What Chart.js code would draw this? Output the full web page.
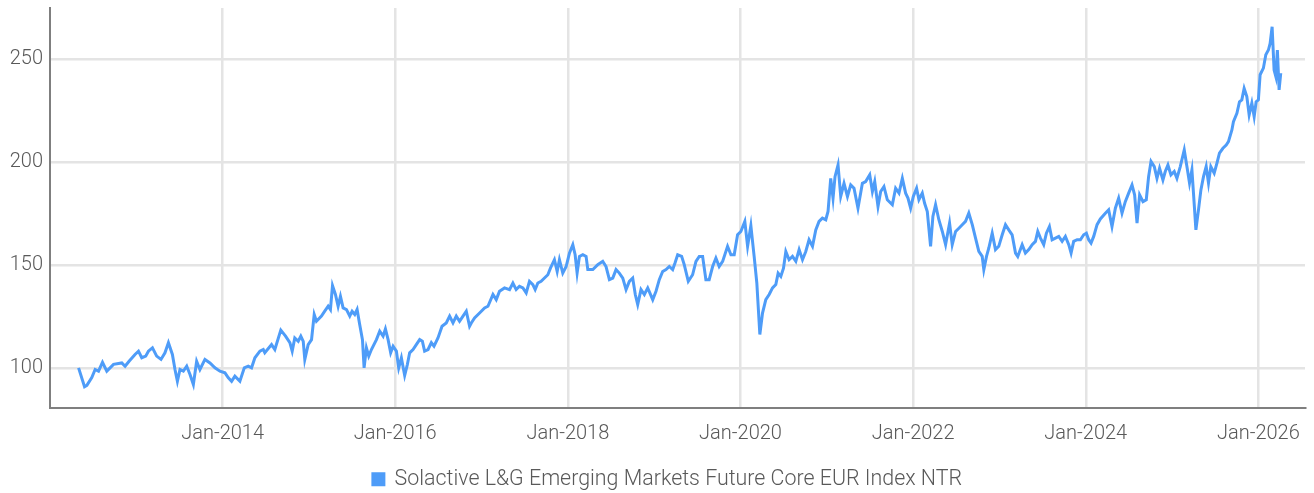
<!DOCTYPE html>
<html>
<head>
<meta charset="utf-8">
<script src="https://cdn.jsdelivr.net/npm/chart.js@4.4.1/dist/chart.umd.min.js"></script>
<style>
  html, body { margin: 0; padding: 0; background: #ffffff; }
  #wrap { width: 1314px; height: 493px; position: relative; }
</style>
</head>
<body>
<div id="wrap"><canvas id="c" width="1314" height="493"></canvas></div>
<script>
// Time positions as decimal years
const years = [
2012.331,2012.400,2012.427,2012.484,2012.523,2012.562,2012.608,2012.658,2012.736,2012.832,2012.870,2012.916,2012.985,
2013.025,2013.063,2013.109,2013.140,2013.187,2013.236,2013.286,2013.332,2013.372,2013.418,2013.448,2013.476,2013.506,
2013.545,2013.584,2013.622,2013.661,2013.699,2013.737,2013.795,2013.853,2013.911,2013.969,
2014.027,2014.066,2014.104,2014.142,2014.200,2014.251,2014.297,2014.335,2014.374,2014.432,2014.471,2014.489,2014.567,
2014.605,2014.674,2014.729,2014.779,2014.806,2014.836,2014.876,2014.906,2014.934,2014.952,2014.991,
2015.030,2015.061,2015.087,2015.145,2015.183,2015.223,2015.249,2015.273,2015.307,2015.338,2015.365,2015.396,2015.435,
2015.473,2015.500,2015.531,2015.558,2015.588,2015.620,2015.639,2015.666,2015.693,2015.724,2015.782,2015.820,2015.859,
2015.886,2015.917,2015.947,2015.975,
2016.013,2016.040,2016.071,2016.109,2016.140,2016.167,2016.206,2016.244,2016.283,2016.314,2016.340,2016.380,2016.418,
2016.449,2016.495,2016.542,2016.591,2016.630,2016.669,2016.707,2016.745,2016.785,2016.823,2016.861,2016.881,2016.919,2016.977,
2017.035,2017.074,2017.132,2017.170,2017.208,2017.266,2017.324,2017.363,2017.401,2017.439,2017.479,2017.517,2017.555,
2017.594,2017.621,2017.652,2017.690,2017.729,2017.768,2017.798,2017.844,2017.876,2017.902,2017.941,2017.980,
2018.018,2018.057,2018.084,2018.107,2018.134,2018.173,2018.211,2018.231,2018.289,2018.346,2018.404,2018.442,2018.481,
2018.520,2018.558,2018.596,2018.636,2018.674,2018.712,2018.751,2018.781,2018.809,2018.847,2018.886,2018.925,2018.983,
2019.021,2019.059,2019.098,2019.137,2019.175,2019.214,2019.241,2019.272,2019.318,2019.348,2019.395,2019.445,2019.484,
2019.522,2019.561,2019.599,2019.637,2019.677,2019.715,2019.753,2019.793,2019.850,2019.889,2019.927,2019.966,
2020.004,2020.050,2020.082,2020.120,2020.158,2020.189,2020.224,2020.255,2020.293,2020.332,2020.371,2020.409,2020.436,
2020.467,2020.498,2020.525,2020.563,2020.602,2020.641,2020.679,2020.718,2020.756,2020.794,2020.834,2020.872,2020.910,
2020.949,2020.988,
2021.014,2021.045,2021.072,2021.095,2021.130,2021.161,2021.199,2021.239,2021.277,2021.315,2021.361,2021.412,2021.450,
2021.497,2021.528,2021.555,2021.593,2021.624,2021.662,2021.701,2021.759,2021.797,2021.836,2021.875,2021.913,2021.940,2021.971,
2022.002,2022.040,2022.067,2022.106,2022.133,2022.164,2022.202,2022.229,2022.260,2022.298,2022.338,2022.376,2022.422,
2022.453,2022.492,2022.530,2022.569,2022.607,2022.645,2022.685,2022.723,2022.761,2022.800,2022.819,2022.850,2022.877,
2022.916,2022.954,2022.992,
2023.032,2023.070,2023.108,2023.147,2023.186,2023.212,2023.263,2023.301,2023.340,2023.379,2023.417,2023.444,2023.475,
2023.513,2023.544,2023.579,2023.610,2023.649,2023.687,2023.726,2023.764,2023.803,2023.830,2023.860,2023.900,2023.938,2023.976,
2024.007,2024.034,2024.061,2024.092,2024.131,2024.169,2024.227,2024.265,2024.304,2024.343,2024.381,2024.420,2024.458,
2024.497,2024.536,2024.566,2024.594,2024.624,2024.663,2024.701,2024.728,2024.756,2024.794,2024.825,2024.855,2024.894,
2024.921,2024.952,2024.987,
2025.025,2025.056,2025.095,2025.141,2025.172,2025.202,2025.230,2025.248,2025.276,2025.306,2025.334,2025.364,2025.395,
2025.422,2025.449,2025.488,2025.519,2025.549,2025.589,2025.627,2025.653,2025.693,2025.711,2025.751,2025.781,2025.808,
2025.835,2025.866,2025.893,2025.924,2025.951,2025.974,
2026.000,2026.020,2026.058,2026.086,2026.116,2026.136,2026.159,2026.182,2026.202,2026.220,2026.240,2026.259
];

// Index values
const indexValues = [
100.3,91.1,91.8,95.6,99.5,98.7,103.0,98.7,102.0,102.7,101.1,103.5,106.8,
108.4,105.2,106.0,108.4,110.0,106.0,104.4,107.6,112.5,106.8,99.5,93.8,99.5,
98.7,101.1,97.1,92.2,103.5,99.5,104.4,102.7,100.3,98.7,
97.9,95.5,93.8,96.3,93.8,100.3,101.1,100.3,105.2,108.4,109.2,107.6,111.6,
109.2,118.6,115.7,112.5,108.4,114.8,113.2,115.7,113.2,104.4,111.6,
114.0,126.2,122.9,125.4,127.8,130.2,128.6,140.2,135.9,130.2,135.0,129.4,128.6,
125.4,127.8,126.2,128.6,121.3,114.0,100.3,110.0,106.0,109.2,114.0,118.1,115.7,
119.2,114.0,107.6,110.8,
108.4,100.3,105.2,96.6,101.9,107.6,109.2,111.6,114.0,113.2,108.4,109.2,112.5,
110.8,114.8,120.5,122.1,125.4,122.1,125.4,122.9,125.4,127.8,120.5,122.1,124.5,126.9,
129.4,130.2,135.9,133.4,137.5,139.1,138.3,141.5,138.3,139.9,139.1,136.7,142.3,
140.7,138.3,141.5,142.3,143.9,145.5,148.7,152.8,147.1,152.8,146.3,149.5,
156.0,160.1,155.2,146.3,154.4,155.2,154.4,148.0,148.0,150.4,152.0,149.5,143.1,
143.9,148.0,146.3,143.9,138.3,142.3,143.9,135.9,131.0,138.3,135.9,139.1,133.4,
137.5,143.1,147.1,148.0,149.5,148.0,151.2,155.2,154.4,150.4,142.3,145.5,152.0,
154.4,154.4,143.1,143.1,149.5,153.6,149.5,152.0,159.3,155.2,155.2,164.9,
166.5,171.4,159.3,169.3,154.4,141.5,116.5,126.9,133.4,135.9,139.1,140.7,146.3,
144.7,148.7,156.8,152.8,154.4,152.0,157.7,152.8,156.8,162.5,159.3,167.3,171.4,
173.0,172.2,
176.2,192.3,182.6,193.1,198.8,183.5,189.9,183.5,189.1,187.5,177.8,189.9,190.7,
194.0,185.9,190.7,178.6,185.9,188.3,181.9,179.5,187.5,185.1,192.3,185.1,182.7,177.8,
183.5,187.5,181.9,185.1,180.2,176.2,159.3,173.8,179.5,172.2,166.5,160.1,170.6,
160.1,166.5,168.1,169.8,171.4,175.4,169.8,163.3,156.8,154.4,148.0,154.4,158.5,
165.7,157.7,159.3,
164.9,169.8,167.3,164.9,156.0,154.4,160.1,156.0,157.7,160.1,161.7,166.5,163.3,
160.1,165.7,168.9,162.5,163.3,164.1,161.7,164.1,160.1,156.0,161.7,162.5,162.5,164.9,
165.7,162.5,160.9,164.1,169.8,172.6,175.4,177.0,168.9,177.8,182.7,175.4,181.0,
185.1,189.1,184.3,170.6,184.3,181.0,181.9,193.1,200.5,198.0,192.3,197.2,191.5,
195.6,198.8,194.0,
195.6,192.3,198.0,206.1,198.0,190.0,196.4,185.1,167.3,177.0,186.7,193.1,198.0,
190.0,198.0,194.8,199.6,204.5,206.9,208.5,210.1,215.8,219.8,223.9,229.5,230.4,
236.0,232.0,223.1,228.8,222.3,229.5,
230.4,242.6,245.8,252.3,254.6,257.8,265.9,244.9,241.7,254.6,235.2,243.4
];

const seriesName = 'Solactive L&G Emerging Markets Future Core EUR Index NTR';
const xTickYears = [2014, 2016, 2018, 2020, 2022, 2024, 2026];
const yTickValues = [100, 150, 200, 250];

const points = years.map((y, i) => ({ x: y, y: indexValues[i] }));
const FONT = 'Roboto';
const TXT = '#595959';

// shift legend drawing slightly to the right
const legendShift = {
  id: 'legendShift',
  beforeDraw(chart) {
    const lg = chart.legend;
    if (lg && !lg._shifted) {
      const orig = lg.draw.bind(lg);
      lg.draw = function () {
        const ctx = chart.ctx;
        ctx.save();
        ctx.translate(15, 0);
        orig();
        ctx.restore();
      };
      lg._shifted = true;
    }
  }
};

new Chart(document.getElementById('c'), {
  type: 'line',
  data: {
    datasets: [{
      label: seriesName,
      data: points,
      borderColor: '#4e9cf8',
      backgroundColor: '#4e9cf8',
      borderWidth: 3,
      pointRadius: 0,
      tension: 0,
      fill: false
    }]
  },
  plugins: [legendShift],
  options: {
    responsive: false,
    animation: false,
    events: [],
    layout: { padding: { top: 8, right: 9, left: 0, bottom: -7 } },
    plugins: {
      tooltip: { enabled: false },
      legend: {
        position: 'bottom',
        labels: {
          boxWidth: 11, boxHeight: 11,
          padding: 10,
          color: TXT,
          font: { family: FONT, size: 21.4, weight: '300' }
        }
      }
    },
    scales: {
      x: {
        type: 'linear',
        min: 2012.0,
        max: 2026.54,
        afterBuildTicks: (s) => { s.ticks = xTickYears.map(v => ({ value: v })); },
        afterFit: (s) => { s.height = 51; s.paddingLeft = 0; s.paddingRight = 0; },
        grid: { color: '#e4e4e4', lineWidth: 2.5, drawTicks: false },
        border: { color: '#7f7f7f', width: 2 },
        ticks: {
          padding: 14,
          color: TXT,
          font: { family: FONT, size: 20, weight: '300' },
          maxRotation: 0,
          autoSkip: false,
          callback: (v) => 'Jan-' + Math.round(v)
        }
      },
      y: {
        type: 'linear',
        min: 81,
        max: 275,
        afterBuildTicks: (s) => { s.ticks = yTickValues.map(v => ({ value: v })); },
        afterFit: (s) => { s.width = 50; s.paddingTop = 0; s.paddingBottom = 0; },
        grid: { color: '#e4e4e4', lineWidth: 2.5, drawTicks: false },
        border: { color: '#7f7f7f', width: 2 },
        ticks: {
          padding: 7,
          color: TXT,
          font: { family: FONT, size: 20, weight: '300' },
          callback: (v) => String(v)
        }
      }
    }
  }
});
</script>
</body>
</html>
